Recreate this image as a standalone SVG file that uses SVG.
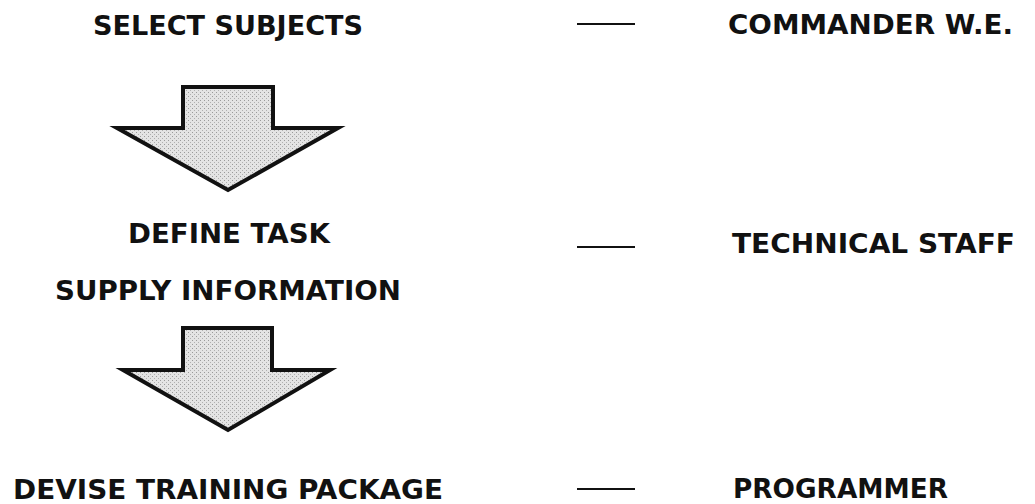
<svg xmlns="http://www.w3.org/2000/svg" width="1035" height="504" viewBox="0 0 1035 504">
  <style>
    .lbl { font-family: "DejaVu Sans", "Open Sans", "Liberation Sans", sans-serif; font-weight: bold; font-size: 26px; fill: #111; }
    .rule { stroke: #111; stroke-width: 2.2; }
    .arrow { fill: url(#stipple); stroke: #111; stroke-width: 4; stroke-linejoin: miter; }
  </style>
  <defs>
    <pattern id="stipple" width="4" height="4" patternUnits="userSpaceOnUse">
      <rect width="4" height="4" fill="#e4e4e4"/>
      <rect x="0" y="0" width="1" height="1" fill="#9a9a9a"/>
      <rect x="2" y="2" width="1" height="1" fill="#b0b0b0"/>
    </pattern>
  </defs>
  <rect width="1035" height="504" fill="#fff"/>

  <g id="select-subjects"><text class="lbl" x="93" y="35" textLength="270" lengthAdjust="spacingAndGlyphs">SELECT SUBJECTS</text></g>
  <g id="commander"><text class="lbl" x="728" y="34" textLength="285" lengthAdjust="spacingAndGlyphs">COMMANDER W.E.</text></g>
  <g id="arrow-1"><polygon class="arrow" points="183,87 273,87 273,128 338,128 228,190 117,128 183,128"/></g>
  <g id="define-task"><text class="lbl" x="128" y="243" textLength="202" lengthAdjust="spacingAndGlyphs">DEFINE TASK</text></g>
  <g id="technical-staff"><text class="lbl" x="732" y="253" textLength="283" lengthAdjust="spacingAndGlyphs">TECHNICAL STAFF</text></g>
  <g id="supply-information"><text class="lbl" x="55" y="300" textLength="346" lengthAdjust="spacingAndGlyphs">SUPPLY INFORMATION</text></g>
  <g id="arrow-2"><polygon class="arrow" points="183,328 272,328 272,370 330,370 228,430 123,370 183,370"/></g>
  <g id="devise-package"><text class="lbl" x="13" y="499" textLength="430" lengthAdjust="spacingAndGlyphs">DEVISE TRAINING PACKAGE</text></g>
  <g id="programmer"><text class="lbl" x="733" y="498" textLength="215" lengthAdjust="spacingAndGlyphs">PROGRAMMER</text></g>

  <g id="connectors">
    <line class="rule" x1="577" y1="24" x2="635" y2="24"/>
    <line class="rule" x1="577" y1="247" x2="635" y2="247"/>
    <line class="rule" x1="577" y1="489" x2="635" y2="489"/>
  </g>
</svg>
